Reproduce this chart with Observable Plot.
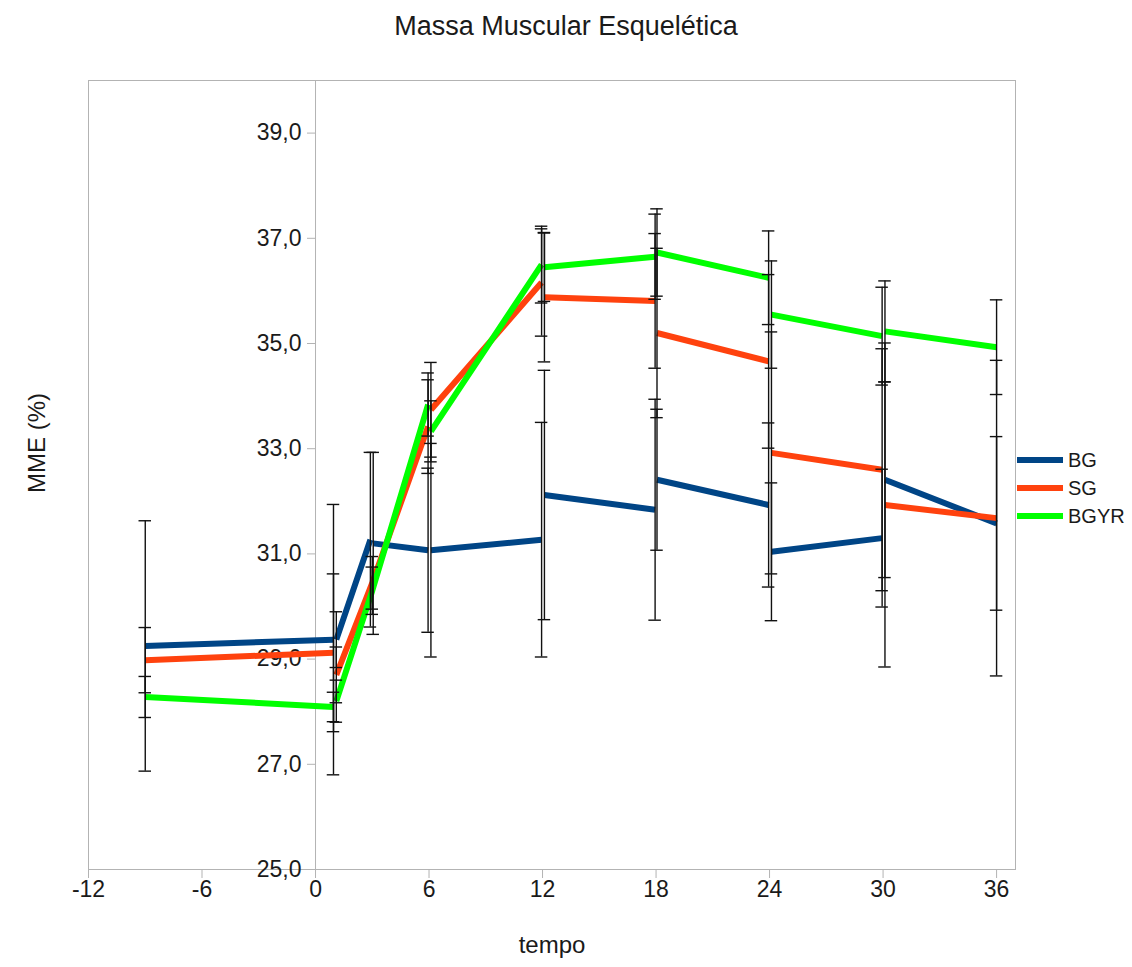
<!DOCTYPE html>
<html><head><meta charset="utf-8">
<script src="https://cdn.jsdelivr.net/npm/d3@7"></script>
<script src="https://cdn.jsdelivr.net/npm/@observablehq/plot@0.6"></script>
<style>
body{margin:0;background:#fff;font-family:"Liberation Sans",Arial,sans-serif;color:#1a1a1a;}
#wrap{position:relative;width:1132px;height:967px;}
#title{height:60px;line-height:52px;text-align:center;font-size:27px;}
#legend{position:absolute;left:1017px;top:446px;font-size:20px;}
.item{display:flex;align-items:center;height:28px;}
.sw{width:46px;height:6px;margin-right:5px;}
</style></head><body>
<div id="wrap"><div id="title">Massa Muscular Esquelética</div><div id="chart"></div><div id="legend"></div></div>
<script>
// Series names and colours
const seriesNames = ["BG", "SG", "BGYR"];
const seriesColors = ["#004586", "#ff420e", "#00ff00"];

// Ticks
const xTicks = [-12, -6, 0, 6, 12, 18, 24, 30, 36];
const yTicks = [25, 27, 29, 31, 33, 35, 37, 39];

// BG (null = break in the line)
const bgX  = [-9, 0.95, null, 1.1, 2.9, null, 3.05, 5.95, null, 6.1, 11.95, null, 12.1, 17.95, null, 18.05, 23.95, null, 24.1, 29.95, null, 30.1, 36];
const bgY  = [29.25, 29.37, null, 29.37, 31.27, null, 31.2, 31.07, null, 31.07, 31.27, null, 32.12, 31.84, null, 32.41, 31.93, null, 31.04, 31.3, null, 32.41, 31.58];
const bgSD = [2.38, 2.57, null, 0.53, 1.66, null, 1.73, 1.56, null, 2.03, 2.23, null, 2.37, 2.1, null, 1.34, 1.56, null, 1.31, 1.31, null, 1.86, 1.65];

// SG
const sgX  = [-9, 0.95, null, 1.1, 3, 5.95, null, 6.1, 11.95, null, 12.1, 17.95, null, 18.05, 23.95, null, 24.1, 29.95, null, 30.1, 36];
const sgY  = [28.98, 29.12, null, 28.7, 30.45, 33.42, null, 33.74, 36.16, null, 35.88, 35.81, null, 35.2, 34.66, null, 32.92, 32.6, null, 31.93, 31.68];
const sgSD = [0.62, 1.5, null, 0.53, 0.5, 0.89, null, 0.9, 1.02, null, 1.23, 1.28, null, 1.61, 1.65, null, 2.3, 2.3, null, 3.08, 3.0];

// BGYR
const bgyrX  = [-9, 0.95, null, 1.1, 3, 5.95, null, 6.1, 11.95, null, 12.1, 17.95, null, 18.05, 23.95, null, 24.1, 29.95, null, 30.1, 36];
const bgyrY  = [28.28, 28.09, null, 28.2, 30.3, 33.84, null, 33.33, 36.5, null, 36.45, 36.65, null, 36.73, 36.25, null, 35.55, 35.14, null, 35.23, 34.93];
const bgyrSD = [0.39, 0.28, null, 0.4, 0.45, 0.6, null, 0.58, 0.73, null, 0.65, 0.81, null, 0.83, 0.89, null, 1.02, 0.93, null, 0.96, 0.9];

const cols = [[bgX, bgY, bgSD], [sgX, sgY, sgSD], [bgyrX, bgyrY, bgyrSD]];
const rows = [];
cols.forEach(([xs, ys, sds], i) => xs.forEach((x, j) => rows.push({series: seriesNames[i], x, y: ys[j], sd: sds[j]})));
const pts = rows.filter(d => d.y != null);

const fmt = d => d3.format(".1f")(d).replace(".", ",");
const capHalf = 0.33;
const grid = "#b3b3b3";

const chart = Plot.plot({
  width: 1132, height: 907,
  marginLeft: 88, marginRight: 117, marginTop: 20, marginBottom: 98,
  style: {fontFamily: "'Liberation Sans', Arial, sans-serif", fontSize: "23px", color: "#1a1a1a", background: "#fff"},
  x: {domain: [-12, 37]},
  y: {domain: [25, 40]},
  color: {domain: seriesNames, range: seriesColors},
  marks: [
    Plot.frame({stroke: grid}),
    Plot.ruleX([0], {stroke: grid}),
    Plot.axisX(xTicks, {tickSize: 9, tickPadding: 2, stroke: grid, tickFormat: d => String(d), label: null}),
    Plot.axisY(yTicks, {anchor: "left", dx: 227, tickSize: 8, tickPadding: 6, stroke: grid, tickFormat: fmt, label: null}),
    Plot.text(["tempo"], {frameAnchor: "bottom", dy: 83, fontSize: 24, fill: "#1a1a1a"}),
    Plot.text(["MME (%)"], {frameAnchor: "left", dx: -51, dy: 18, rotate: -90, fontSize: 24, fill: "#1a1a1a"}),
    Plot.line(rows, {x: "x", y: "y", z: "series", stroke: "series", strokeWidth: 6, strokeLinecap: "butt", strokeLinejoin: "miter"}),
    Plot.ruleX(pts, {x: "x", y1: d => d.y - d.sd, y2: d => d.y + d.sd, stroke: "#111", strokeWidth: 1.4}),
    Plot.ruleY(pts, {y: d => d.y - d.sd, x1: d => d.x - capHalf, x2: d => d.x + capHalf, stroke: "#111", strokeWidth: 1.4}),
    Plot.ruleY(pts, {y: d => d.y + d.sd, x1: d => d.x - capHalf, x2: d => d.x + capHalf, stroke: "#111", strokeWidth: 1.4})
  ]
});
document.getElementById("chart").appendChild(chart);

const leg = document.getElementById("legend");
seriesNames.forEach((s, i) => {
  const it = document.createElement("div"); it.className = "item";
  const sw = document.createElement("div"); sw.className = "sw"; sw.style.background = seriesColors[i];
  const lb = document.createElement("span"); lb.textContent = s;
  it.appendChild(sw); it.appendChild(lb); leg.appendChild(it);
});
</script>
</body></html>
